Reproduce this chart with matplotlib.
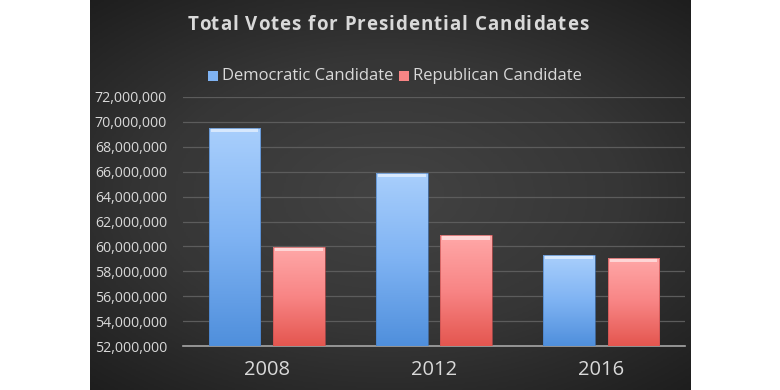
import numpy as np
import matplotlib
matplotlib.use("Agg")
import matplotlib.pyplot as plt
from matplotlib.patches import Rectangle
from matplotlib.colors import LinearSegmentedColormap
from matplotlib.font_manager import FontProperties

years = ["2008", "2012", "2016"]
dem_votes = [69_500_000, 65_900_000, 59_300_000]
rep_votes = [59_950_000, 60_900_000, 59_100_000]
series_names = ["Democratic Candidate", "Republican Candidate"]
title = "Total Votes for Presidential Candidates"
y_min, y_max, y_step = 52_000_000, 72_000_000, 2_000_000

FONT = ["Open Sans", "DejaVu Sans"]
TXT = "#d9d9d9"

fig = plt.figure(figsize=(7.8, 3.9), dpi=100)
fig.patch.set_facecolor("white")

# dark panel background
bg = fig.add_axes([90 / 780, 0, 600 / 780, 1])
yy, xx = np.mgrid[-1:1:200j, -1:1:300j]
r = np.sqrt((xx * 0.9) ** 2 + (yy * 1.0) ** 2)
bg_cmap = LinearSegmentedColormap.from_list("bg", ["#434343", "#363636", "#1c1c1c"])
bg.imshow(r, cmap=bg_cmap, vmin=0, vmax=1.4, aspect="auto", extent=[0, 1, 0, 1])
bg.set_axis_off()

# plot area
ax = fig.add_axes([183 / 780, 1 - 346 / 390, 502 / 780, 249 / 390])
ax.set_facecolor("none")
ax.set_xlim(-0.5, 2.5)
ax.set_ylim(y_min, y_max)
ticks = np.arange(y_min, y_max + 1, y_step)
ax.set_yticks(ticks)
ax.set_yticklabels([f"{t:,.0f}" for t in ticks], color=TXT, fontsize=10.2, family=FONT)
ax.set_xticks(range(len(years)))
ax.set_xticklabels(years, color=TXT, fontsize=14.5, family=FONT)
ax.tick_params(axis="both", length=0)
ax.tick_params(axis="y", pad=11.5)
ax.tick_params(axis="x", pad=10)
for s in ["top", "right", "left"]:
    ax.spines[s].set_visible(False)
ax.spines["bottom"].set_color("#a6a6a6")
ax.spines["bottom"].set_linewidth(1.2)
ax.grid(axis="y", color="#5c5c5c", linewidth=0.9)
ax.set_axisbelow(True)

w = 0.31
gap = 0.075
x = np.arange(len(years))
blue_cmap = LinearSegmentedColormap.from_list("b", ["#4f8fdc", "#7fb3f3", "#a9cffc"])
red_cmap = LinearSegmentedColormap.from_list("r", ["#e4564f", "#f88585", "#ffa8a8"])
grad = np.linspace(0, 1, 256).reshape(-1, 1)

def draw_bars(xs, vals, cmap, edge):
    bars = ax.bar(xs, [v - y_min for v in vals], width=w, bottom=y_min,
                  color="none", edgecolor="none", zorder=3)
    for b in bars:
        x0, wd = b.get_x(), b.get_width()
        top = b.get_y() + b.get_height()
        im = ax.imshow(grad, cmap=cmap, origin="lower", aspect="auto",
                       extent=[x0, x0 + wd, y_min, top], zorder=3)
        im.set_clip_path(b)
        hb = 0.35e6
        ax.add_patch(Rectangle((x0 + 0.012, top - hb), wd - 0.024, hb,
                               facecolor="white", alpha=0.55, edgecolor="none", zorder=4))
        ax.add_patch(Rectangle((x0, y_min), wd, top - y_min, facecolor="none",
                               edgecolor=edge, linewidth=0.6, alpha=0.8, zorder=5))
    return bars

draw_bars(x - (w + gap) / 2, dem_votes, blue_cmap, "#4a80c4")
draw_bars(x + (w + gap) / 2, rep_votes, red_cmap, "#c85050")
ax.set_xlim(-0.5, 2.5)
ax.set_ylim(y_min, y_max)

# title with letter spacing
renderer = fig.canvas.get_renderer()
fp = FontProperties(family=FONT, weight="bold", size=13.5)
def txt_width(s):
    if not s:
        return 0.0
    wpx, _, _ = renderer.get_text_width_height_descent(s, fp, ismath=False)
    return wpx
spacing = 1.0
total = txt_width(title) + spacing * (len(title) - 1)
start = 388 - total / 2
for i, ch in enumerate(title):
    px = start + txt_width(title[:i]) + spacing * i
    fig.text(px / 780, 1 - 25 / 390, ch, ha="left", va="center", color=TXT,
             fontproperties=fp)

# legend
leg_items = [(208, "#7fb3f3", series_names[0]), (399, "#f88585", series_names[1])]
for px, col, name in leg_items:
    fig.patches.append(Rectangle((px / 780, 1 - 81 / 390), 10 / 780, 10 / 390,
                                 transform=fig.transFigure, facecolor=col,
                                 edgecolor="none", figure=fig))
    fig.text((px + 14) / 780, 1 - 76 / 390, name, ha="left", va="center",
             color=TXT, fontsize=12, family=FONT)

fig.savefig("out.png", dpi=100, facecolor="white")
